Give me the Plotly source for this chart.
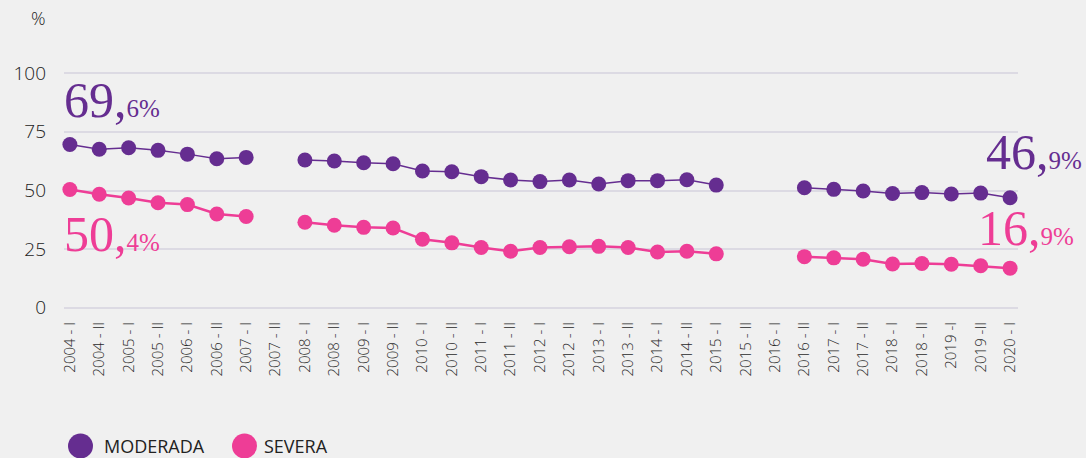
import plotly.graph_objects as go

# periods (semesters)
periodos = ['2004 - I', '2004 - II', '2005 - I', '2005 - II', '2006 - I', '2006 - II',
            '2007 - I', '2007 - II', '2008 - I', '2008 - II', '2009 - I', '2009 - II',
            '2010 - I', '2010 - II', '2011 - I', '2011 - II', '2012 - I', '2012 - II',
            '2013 - I', '2013 - II', '2014 - I', '2014 - II', '2015 - I', '2015 - II',
            '2016 - I', '2016 - II', '2017 - I', '2017 - II', '2018 - I', '2018 - II',
            '2019 -I', '2019 -II', '2020 - I']

moderada = [69.6, 67.6, 68.2, 67.1, 65.5, 63.5, 64.1, None, 63.0, 62.6, 61.8, 61.4,
            58.3, 58.0, 55.9, 54.5, 53.8, 54.5, 52.8, 54.2, 54.2, 54.6, 52.3, None,
            None, 51.2, 50.5, 49.8, 48.7, 49.1, 48.5, 48.9, 46.9]

severa = [50.4, 48.4, 46.8, 44.8, 44.0, 40.0, 38.9, None, 36.5, 35.2, 34.3, 34.0,
          29.2, 27.7, 25.7, 24.1, 25.7, 26.0, 26.2, 25.7, 23.8, 24.1, 23.0, None,
          None, 21.8, 21.3, 20.7, 18.7, 18.9, 18.6, 17.9, 16.9]

y_ticks = [0, 25, 50, 75, 100]

PURPLE = '#652D90'
PINK = '#EE3D96'
BG = '#F0F0F0'
SANS = 'Open Sans'
SERIF = 'Liberation Serif'

fig = go.Figure()
fig.add_trace(go.Scatter(
    x=periodos, y=moderada, mode='lines+markers', name='MODERADA',
    line=dict(color=PURPLE, width=1.5),
    marker=dict(size=15, color=PURPLE),
    cliponaxis=False, connectgaps=False, showlegend=False))
fig.add_trace(go.Scatter(
    x=periodos, y=severa, mode='lines+markers', name='SEVERA',
    line=dict(color=PINK, width=2.5),
    marker=dict(size=15, color=PINK),
    cliponaxis=False, connectgaps=False, showlegend=False))


def big_label(v):
    ent, dec = f'{v:.1f}'.split('.')
    return f"{ent},<span style='font-size:25px'>{dec}%</span>"


LEG_Y = -0.578
annotations = [
    dict(x=0, y=1.228, xref='paper', yref='paper', text='%', showarrow=False,
         xanchor='right', yanchor='middle', xshift=-16,
         font=dict(family=SANS, size=18, color='#222', weight=300)),
    dict(x=periodos[0], y=moderada[0], text=big_label(moderada[0]), showarrow=False,
         xanchor='left', yanchor='bottom', xshift=-8, yshift=15,
         font=dict(family=SERIF, size=50, color=PURPLE)),
    dict(x=periodos[0], y=severa[0], text=big_label(severa[0]), showarrow=False,
         xanchor='left', yanchor='top', xshift=-8, yshift=-14,
         font=dict(family=SERIF, size=50, color=PINK)),
    dict(x=1, y=moderada[-1], xref='paper', text=big_label(moderada[-1]), showarrow=False,
         xanchor='right', yanchor='bottom', xshift=66, yshift=16,
         font=dict(family=SERIF, size=50, color=PURPLE)),
    dict(x=1, y=severa[-1], xref='paper', text=big_label(severa[-1]), showarrow=False,
         xanchor='right', yanchor='bottom', xshift=58, yshift=10,
         font=dict(family=SERIF, size=50, color=PINK)),
    dict(x=0, y=LEG_Y, xref='paper', yref='paper', text='MODERADA', showarrow=False,
         xanchor='left', yanchor='middle', xshift=38,
         font=dict(family=SANS, size=18, color='#222')),
    dict(x=0, y=LEG_Y, xref='paper', yref='paper', text='SEVERA', showarrow=False,
         xanchor='left', yanchor='middle', xshift=198,
         font=dict(family=SANS, size=18, color='#222')),
]

shapes = [
    dict(type='circle', xref='paper', yref='paper', xsizemode='pixel', ysizemode='pixel',
         xanchor=0, yanchor=LEG_Y, x0=4, x1=29, y0=-12.5, y1=12.5,
         fillcolor=PURPLE, line=dict(width=0)),
    dict(type='circle', xref='paper', yref='paper', xsizemode='pixel', ysizemode='pixel',
         xanchor=0, yanchor=LEG_Y, x0=168, x1=193, y0=-12.5, y1=12.5,
         fillcolor=PINK, line=dict(width=0)),
]

fig.update_layout(
    width=1086, height=458,
    paper_bgcolor=BG, plot_bgcolor=BG,
    margin=dict(l=64, r=68, t=72, b=149),
    font=dict(family=SANS, color='#333'),
    annotations=annotations, shapes=shapes,
    showlegend=False,
)
fig.update_xaxes(
    type='category', range=[-0.2, 32.27], tickangle=-90,
    showgrid=False, showline=False, zeroline=False, ticks='',
    ticklabelstandoff=9,
    tickfont=dict(family=SANS, size=15, color='#2a2a2a', weight=300),
)
fig.update_yaxes(
    range=[-0.5, 100.5], tickvals=y_ticks, showgrid=True, gridcolor='#DCDAE3', gridwidth=1.5,
    zeroline=False, showline=False, ticks='', ticklabelstandoff=17,
    tickfont=dict(family=SANS, size=19, color='#222', weight=300),
)

fig.write_html('out.html', config={'displayModeBar': False},
               post_script="document.body.style.margin='0';")
